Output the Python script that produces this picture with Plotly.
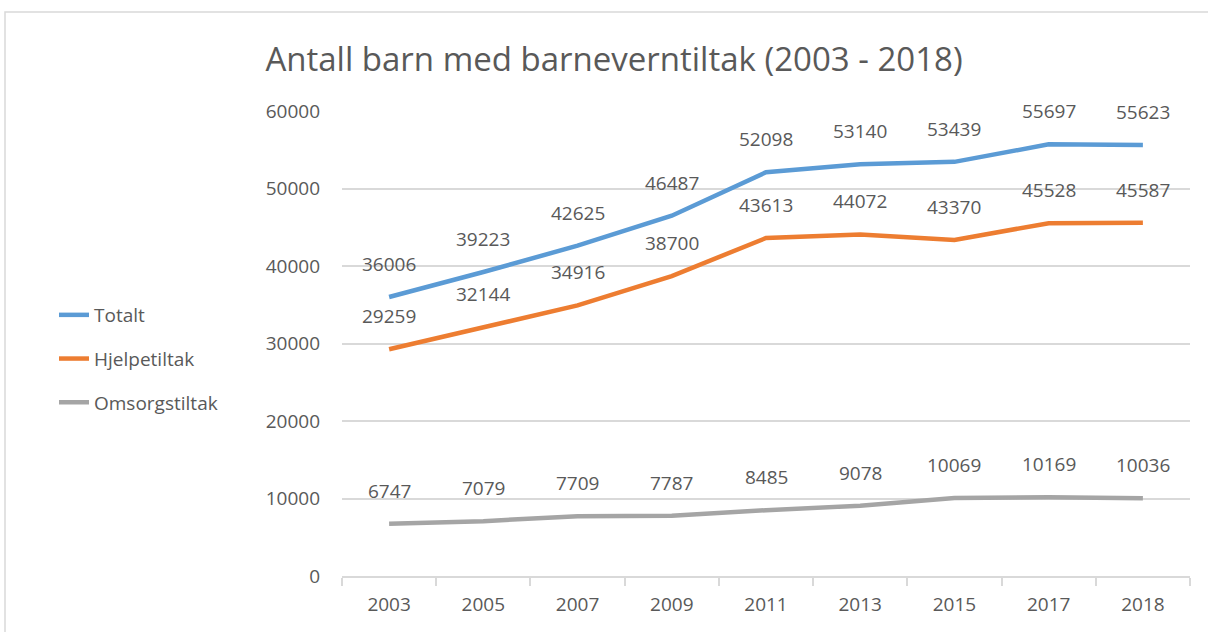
import plotly.graph_objects as go

years = ["2003", "2005", "2007", "2009", "2011", "2013", "2015", "2017", "2018"]
totalt = [36006, 39223, 42625, 46487, 52098, 53140, 53439, 55697, 55623]
hjelpetiltak = [29259, 32144, 34916, 38700, 43613, 44072, 43370, 45528, 45587]
omsorgstiltak = [6747, 7079, 7709, 7787, 8485, 9078, 10069, 10169, 10036]
y_ticks = [0, 10000, 20000, 30000, 40000, 50000, 60000]

series = [
    ("Totalt", totalt, "#5b9bd5"),
    ("Hjelpetiltak", hjelpetiltak, "#ed7d31"),
    ("Omsorgstiltak", omsorgstiltak, "#a5a5a5"),
]

FONT = "Open Sans"
TXT = "#595959"

fig = go.Figure()
annotations = []
for i, (name, vals, color) in enumerate(series):
    fig.add_trace(go.Scatter(
        x=years, y=vals, mode="lines", name=name,
        line=dict(color=color, width=4.5),
        legendgroup=f"g{i}",
        hoverinfo="x+y+name",
    ))
    for k, v in enumerate(vals):
        annotations.append(dict(
            x=k, y=v, xref="x", yref="y", text=str(v), showarrow=False,
            yshift=33, font=dict(family=FONT, size=19, color=TXT),
        ))

L, R, T, B = 342, 18, 111, 56
W, H = 1208, 632
pw, ph = W - L - R, H - T - B
def px_x(px):
    return (px - L) / pw
def px_y(py):
    return (H - B - py) / ph

shapes = [dict(type="rect", xref="paper", yref="paper",
               x0=px_x(5), x1=px_x(1220), y0=px_y(645), y1=px_y(12),
               line=dict(color="#d9d9d9", width=1.5), fillcolor="rgba(0,0,0,0)",
               layer="below")]

fig.update_layout(
    width=W, height=H,
    margin=dict(l=L, r=R, t=T, b=B),
    paper_bgcolor="white", plot_bgcolor="white",
    title=dict(text="Antall barn med barneverntiltak (2003 - 2018)",
               x=px_x(614), xref="paper", xanchor="center",
               y=1 - 59 / H, yanchor="middle",
               font=dict(family=FONT, size=33, color=TXT)),
    font=dict(family=FONT, size=19, color=TXT),
    legend=dict(x=px_x(54), y=px_y(359), xanchor="left", yanchor="middle",
                traceorder="grouped", tracegroupgap=16,
                font=dict(family=FONT, size=19, color=TXT),
                bgcolor="rgba(0,0,0,0)", itemwidth=30),
    xaxis=dict(type="category", categoryorder="array", categoryarray=years,
               range=[-0.5, len(years) - 0.5],
               showgrid=False, showline=True,
               linecolor="#d9d9d9", linewidth=1.5,
               ticks="outside", tickson="boundaries", ticklen=8,
               tickcolor="#d9d9d9", tickwidth=1.5, tickangle=0,
               ticklabelstandoff=10,
               tickfont=dict(family=FONT, size=19, color=TXT)),
    yaxis=dict(range=[0, 60000], tickvals=y_ticks,
               ticktext=[str(t) for t in y_ticks],
               showgrid=True, gridcolor="#d9d9d9", gridwidth=1.5,
               zeroline=False, showline=False, ticks="",
               ticklabelstandoff=21,
               tickfont=dict(family=FONT, size=19, color=TXT)),
    annotations=annotations,
    shapes=shapes,
    showlegend=True,
)

fig.write_html("out.html",
               config={"displayModeBar": False},
               post_script="document.body.style.margin='0';document.body.style.overflow='hidden';")
